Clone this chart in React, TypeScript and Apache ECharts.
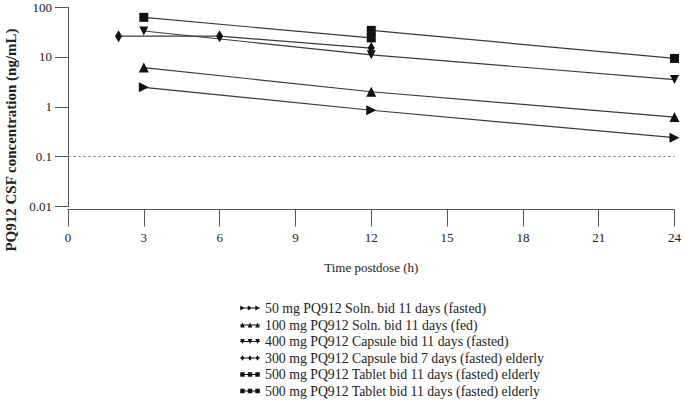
import React, { useEffect, useRef } from "react";
import * as echarts from "echarts";

const seriesNames = [
  "50 mg PQ912 Soln. bid 11 days (fasted)",
  "100 mg PQ912 Soln. bid 11 days (fed)",
  "400 mg PQ912 Capsule bid 11 days (fasted)",
  "300 mg PQ912 Capsule bid 7 days (fasted) elderly",
  "500 mg PQ912 Tablet bid 11 days (fasted) elderly",
  "500 mg PQ912 Tablet bid 11 days (fasted) elderly",
];

const soln50 = [[3, 2.45], [12, 0.85], [24, 0.24]];
const soln100Fed = [[3, 6.1], [12, 2.0], [24, 0.62]];
const capsule400 = [[3, 33], [12, 11], [24, 3.5]];
const capsule300Elderly = [[2, 26], [6, 26], [12, 15]];
const tablet500ElderlyA = [[3, 62], [12, 24]];
const tablet500ElderlyB = [[12, 34], [24, 9.3]];

const xTicks = [0, 3, 6, 9, 12, 15, 18, 21, 24];
const yTickLabels = ["0.01", "0.1", "1", "10", "100"];
const lloq = 0.1;

const xTitle = "Time postdose (h)";
const yTitle = "PQ912 CSF concentration (ng/mL)";

const FONT = "'Liberation Serif', 'Times New Roman', serif";

function icon(kind: string): string {
  const line = "M0,2.6 L20,2.6 L20,3.4 L0,3.4 Z ";
  const cs = [2.5, 10, 17.5];
  const m = cs
    .map((c) => {
      if (kind === "right") return `M${c - 2.2},0.6 L${c + 2.2},3 L${c - 2.2},5.4 Z`;
      if (kind === "up") return `M${c - 2.3},5.4 L${c},0.6 L${c + 2.3},5.4 Z`;
      if (kind === "down") return `M${c - 2.3},0.6 L${c + 2.3},0.6 L${c},5.4 Z`;
      if (kind === "diamond") return `M${c},0.3 L${c + 1.8},3 L${c},5.7 L${c - 1.8},3 Z`;
      return `M${c - 2.2},0.8 L${c + 2.2},0.8 L${c + 2.2},5.2 L${c - 2.2},5.2 Z`;
    })
    .join(" ");
  return "path://M0,0 L0.01,0 L0.01,0.01 Z M20,6 L19.99,6 L19.99,5.99 Z " + line + m;
}

const iconKinds = ["right", "up", "down", "diamond", "square", "square"];

export default function App() {
  const ref = useRef<HTMLDivElement>(null);
  useEffect(() => {
    if (!ref.current) return;
    const chart = echarts.init(ref.current, undefined, { renderer: "svg" });
    const lineStyle = { color: "#3a3a3a", width: 1.2 };
    const base = {
      type: "line" as const,
      lineStyle,
      itemStyle: { color: "#111" },
      emphasis: { disabled: true },
      silent: true,
    };
    const datasets = [soln50, soln100Fed, capsule400, capsule300Elderly, tablet500ElderlyA, tablet500ElderlyB];
    const symbols: any[] = [
      { symbol: "triangle", symbolSize: 10, symbolRotate: -90 },
      { symbol: "triangle", symbolSize: 10, symbolRotate: 0 },
      { symbol: "triangle", symbolSize: 9, symbolRotate: 180 },
      { symbol: "diamond", symbolSize: [7, 12], symbolRotate: 0 },
      { symbol: "rect", symbolSize: 9, symbolRotate: 0 },
      { symbol: "rect", symbolSize: 9, symbolRotate: 0 },
    ];
    const series: any[] = datasets.map((d, i) => ({
      ...base,
      name: seriesNames[i],
      data: d,
      ...symbols[i],
      z: 3 + i,
    }));
    series[0].markLine = {
      silent: true,
      symbol: "none",
      label: { show: false },
      lineStyle: { color: "#999", width: 1, type: [3, 2] },
      data: [{ yAxis: lloq }],
    };
    const rowCenters = [308, 325, 341.5, 358, 374.5, 391];
    const legends = seriesNames.map((n, i) => ({
      data: [{ name: n, icon: icon(iconKinds[i]) }],
      left: 240,
      top: rowCenters[i] - 8,
      orient: "vertical",
      itemWidth: 20,
      itemHeight: 6,
      selectedMode: false,
      padding: 0,
      itemStyle: { color: "#111", borderWidth: 0 },
      textStyle: { fontFamily: FONT, fontSize: 13.8, color: "#222", lineHeight: 16 },
    }));
    chart.setOption({
      animation: false,
      textStyle: { fontFamily: FONT },
      grid: { left: 68, right: 7, top: 7, bottom: 193.5, containLabel: false },
      xAxis: {
        type: "value",
        min: xTicks[0],
        max: xTicks[xTicks.length - 1],
        interval: 3,
        offset: 3,
        name: xTitle,
        nameLocation: "middle",
        nameGap: 51,
        nameTextStyle: { fontFamily: FONT, fontSize: 13, color: "#222" },
        axisLine: { lineStyle: { color: "#555", width: 1 } },
        axisTick: { length: 17, lineStyle: { color: "#555" } },
        axisLabel: { margin: 21, fontFamily: FONT, fontSize: 13, color: "#222" },
        splitLine: { show: false },
      },
      yAxis: {
        type: "log",
        logBase: 10,
        min: Number(yTickLabels[0]),
        max: Number(yTickLabels[yTickLabels.length - 1]),
        axisLine: { show: true, lineStyle: { color: "#555", width: 1 } },
        axisTick: { show: true, length: 13, lineStyle: { color: "#555" } },
        axisLabel: {
          margin: 16,
          fontFamily: FONT,
          fontSize: 13,
          color: "#222",
          formatter: (v: number) => {
            const l = Math.round(Math.log10(v)) + 2;
            return yTickLabels[l] ?? String(v);
          },
        },
        splitLine: { show: false },
        minorTick: { show: false },
      },
      legend: legends,
      graphic: [
        {
          type: "text",
          x: 11,
          y: 140,
          rotation: Math.PI / 2,
          style: {
            text: yTitle,
            fontFamily: FONT,
            fontSize: 15,
            fontWeight: "bold",
            fill: "#222",
            textAlign: "center",
            textVerticalAlign: "middle",
            align: "center",
            verticalAlign: "middle",
          },
        },
      ],
      series,
    });
    return () => chart.dispose();
  }, []);
  return (
    <div
      ref={ref}
      style={{ position: "fixed", left: 0, top: 0, width: 684, height: 400, background: "#fff" }}
    />
  );
}
